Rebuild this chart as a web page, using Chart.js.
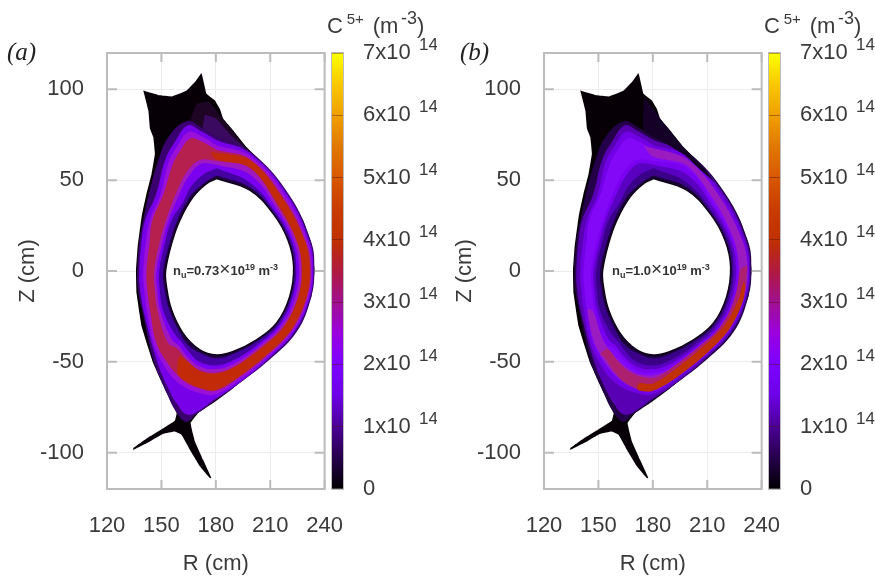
<!DOCTYPE html>
<html>
<head>
<meta charset="utf-8">
<title>C5+ density</title>
<script src="https://cdn.jsdelivr.net/npm/chart.js@4"></script>
<style>
  html, body { margin: 0; padding: 0; background: #fff; }
  body { position: relative; width: 875px; height: 576px; overflow: hidden; }
  .box { position: absolute; top: 0; height: 576px; }
  .box canvas { filter: blur(0.45px); }
</style>
</head>
<body>
<div class="box" style="left:0;width:367px"><canvas id="plotA"></canvas></div>
<div class="box" style="left:437px;width:367px"><canvas id="plotB"></canvas></div>
<div class="box" style="left:320px;width:117px"><canvas id="barA"></canvas></div>
<div class="box" style="left:757px;width:118px"><canvas id="barB"></canvas></div>
<script>
// axis ticks
const rTicks = [120, 150, 180, 210, 240];
const zTicks = [-100, -50, 0, 50, 100];
const cbTicks = [0, 1, 2, 3, 4, 5, 6, 7];

// colour bar, value in 1e14 m-3
const cbStops = [0, 1, 1.5, 2, 2.5, 3, 3.5, 4, 4.5, 5, 5.5, 6, 6.5, 7];
const cbColors = ["#000000", "#4b0096", "#6c00e6", "#7c00ff", "#9a00e0", "#a01090", "#b01a40", "#c03000",
  "#c83c00", "#d85800", "#e07800", "#f0a000", "#f8c800", "#ffff00"];

// contours in (R, Z) cm
const outline = [[140,99.4],[149.2,96.7],[155.6,96.1],[163.9,99.4],[168.5,104],[172.1,108.9],[174.9,97.6],[179.5,93.9],
  [182.2,89.3],[184.1,83.8],[189.6,77.4],[196.9,68.3],[207.9,57.3],[218.9,42.6],[228.1,28],[232.7,15.1],[234.5,0.5],
  [232.7,-14.1],[228.1,-25.1],[218.9,-39.8],[204.2,-52.6],[189.6,-64.5],[178.5,-72.7],[170.3,-78.2],[166.1,-83.7],
  [168.5,-93.8],[173,-103.9],[177.6,-114],[176.7,-114],[171.2,-107.5],[165.7,-98.4],[161.1,-90.1],[157.4,-88.3],[151,-89.6],
  [143.7,-93.8],[134.5,-98.4],[134.5,-97.5],[143.7,-91],[151,-86.5],[157.4,-82.4],[158.4,-78.2],[152.9,-67.2],[145.5,-50.8],
  [139.1,-30.6],[136.3,-12.3],[136,0],[136.9,13.3],[139.1,29.8],[141.8,42.6],[144.6,53.6],[146.4,64.6],[145.5,73.8],
  [143.7,78.3],[142.8,88.4]];
const hole = [[180.4,50.9],[198.7,44.5],[211.6,31.6],[219.8,17],[222.9,2.3],[220.7,-14.1],[213.4,-28.8],[202.4,-37.9],
  [189.6,-44.3],[180.4,-46.2],[171.2,-43.4],[162,-34.3],[155.6,-21.4],[152.8,-8.6],[152.3,0],[155.6,15.1],[160.2,28],
  [167.5,40.8],[174.9,48.1]];
const ring0 = [[181,73.5],[199,65.8],[220.2,42.3],[232.6,16],[234.3,1],[232.7,-14],[224.6,-33.5],[209.4,-49],[190,-64],
  [178.5,-72.2],[169,-79],[163.5,-83],[157.5,-76.5],[152.5,-66],[146,-50.5],[139.8,-23.5],[137,-9.8],[136.7,0],[137.8,16],
  [140,28],[143,42],[148,60],[154,74],[164,82.5],[172,79]];
const ring1 = [[181,71.8],[199,64.8],[219.7,41.7],[231.8,16],[233.8,1],[232,-14],[223.8,-32.9],[208.9,-48.4],[191,-63],
  [179.2,-70.8],[170.5,-77],[164,-79],[158.5,-73],[153.5,-64],[147.5,-49.5],[140.5,-23.4],[138.2,-9.8],[137.8,0],[139,16],
  [141,28],[147,42],[152,61],[157.4,71],[164.6,80.2],[171.2,77.4]];
const ring2 = [[180.9,69],[199,63.3],[218.9,40.6],[230.8,16.1],[233,1.1],[231.2,-14],[222.9,-32.6],[208.3,-47.5],[190.9,-61.5],
  [179.4,-68],[170.5,-67],[163,-64],[157,-59.5],[151.5,-52],[146,-41],[142,-22],[140.5,-9.7],[140,0],[141.5,16],[143.6,28],
  [149.5,42],[154,60],[159,69],[165,76.5],[171.5,74.5]];
const ring3 = [[180.8,66.5],[199,61.5],[217.9,39.4],[229.6,16.2],[232.3,1.2],[230.4,-14],[222.1,-32.2],[207.9,-46.8],[190.8,-60],
  [179.5,-66],[170.5,-64.5],[163.9,-61.7],[158.4,-57],[152.9,-50],[147.3,-39.8],[143.7,-21.4],[142.2,-9.6],[141.8,0],[143.5,16],
  [145,28],[151,42],[156,58],[160.5,66.5],[166,73],[171.5,71.5]];
const ring4 = [[180.6,60.5],[199,56.4],[214.5,35.2],[224.4,16.6],[227.2,1.8],[225.3,-14],[217.3,-30.4],[204.9,-42],[190.2,-52.6],
  [180,-56],[171,-54.5],[164,-49],[158.4,-42.5],[153.7,-39.8],[148,-22.4],[146.3,-9.4],[146,0],[149,15.8],[152.5,28],[158.6,44],
  [164,54.5],[171,61]];
const ring5 = [[180.5,58.5],[199,53],[213.7,34.2],[223.1,16.7],[225.9,2],[223.9,-14],[216.3,-29.9],[204.4,-41.1],[190,-51],
  [180.1,-54],[171,-52.5],[164.5,-47.5],[159.5,-41],[155.6,-37.5],[149.5,-22.2],[147.6,-9.3],[147.3,0],[150.5,15.6],[153.9,28],
  [159.8,42],[165,52],[172,59]];
const ring6 = [[180.5,56.5],[199,48.5],[212.6,32.9],[221.8,16.8],[224.4,2.1],[222.4,-14.1],[215.1,-29.5],[203.7,-40],[189.9,-49],
  [180.2,-52],[171,-50],[165.5,-45],[161,-39],[157.5,-35],[151,-22],[149,-9.2],[148.8,0],[152,15.5],[155.6,28],[162,38],
  [166,46],[173,53]];
const ring7 = [[180.4,52.6],[199,46],[212,32.1],[220.4,17],[223.4,2.2],[221.3,-14.1],[214,-29],[202.9,-38.6],[189.7,-45.6],
  [180.4,-48],[171.2,-45],[165,-41],[161,-35.5],[154.4,-21.5],[151.6,-9],[151,0],[154.5,15.3],[158.8,28],[165.5,40.8],
  [169,44.5],[175.4,49.8]];

// panel (a) extras
const softA1 = [[169.4,92],[176,93],[182,86],[190,76],[197,67],[190,69],[181,73],[172,79],[166,82]];
const softA2 = [[174,86],[180,84],[188,75],[197,66.5],[189,69],[180,73.5],[173,78.5]];
const redA = [[177,65.5],[199,61],[217.5,39],[229.2,16.2],[231.9,1.2],[230,-14],[221.7,-32],[207.5,-46.4],[190.8,-59.5],[179.5,-65.5],
  [170.5,-64],[164,-61],[159,-56.5],[160,-47],[164.5,-50],[171,-55],[180,-56.5],[190.2,-53],[205.2,-42.5],[217.6,-30.8],
  [225.7,-14],[227.6,1.8],[224.8,16.6],[215,35.8],[199,56.8],[180,61.5]];

// panel (b) extras
const darkEdgeB = [[175,96],[184,84],[197,68],[208,57],[214,49],[207,55],[198,63.5],[185,71.5],[175,77]];
const purpleB = [[175,69],[199,61.5],[217.9,39.4],[229.6,16.2],[232.3,1.2],[230.4,-14],[222.1,-32.2],[207.9,-46.8],[190.8,-60],
  [179.5,-66],[170.5,-64.5],[163.9,-61],[158.4,-56],[152.9,-49],[147.3,-38],[144,-21],[147,-22],[153,-39],[158,-46],[164,-52],
  [171,-56.5],[180,-57.5],[190.2,-54],[204.9,-43],[217.3,-31],[225.3,-15],[227.5,1],[224.8,17],[215,37],[199,58],[180,63]];
const crimsonB = [[232,3],[230.4,-14],[222.1,-32.2],[207.9,-46.8],[190.8,-60],[179.5,-66],[170.5,-64.5],[163.9,-61],[158.4,-55],
  [153,-47],[151,-46],[155,-43],[161,-50],[168,-56],[180,-59],[190,-53.5],[204,-42.5],[216.5,-30.5],[225,-14],[228.5,1]];
const redB = [[231,-8],[229.5,-17],[222,-32],[208,-46.8],[191,-60],[179.5,-66],[172,-65.5],[172,-62],[180,-62],[190.5,-55.5],
  [205.5,-43.5],[219.5,-30],[227.5,-15],[230,-6]];

const layersA = [
  [outline, "#060006", 0.08], [softA1, "#1e0526", 0.2], [softA2, "#3a0a60", 0.2],
  [ring0, "#3a0070", 0.4], [ring1, "#7800e8", 0.4], [ring2, "#9a10d8", 0.4], [ring3, "#b5204f", 0.4], [redA, "#c32a08", 0.3],
  [ring4, "#a018c0", 0.4], [ring5, "#7c00f0", 0.4], [ring6, "#4400a0", 0.4], [ring7, "#1e0040", 0.4], [hole, "#ffffff", 0.4]
];
const layersB = [
  [outline, "#060006", 0.08],
  [ring0, "#240048", 0.4], [ring1, "#5a00b4", 0.4], [ring2, "#7200e4", 0.4], [darkEdgeB, "#150028", 0.1],
  [ring3, "#8408f8", 0.4], [purpleB, "#9a1cc0", 0.3], [crimsonB, "#ad2070", 0.3], [redB, "#c03000", 0.3],
  [ring4, "#7a00f0", 0.4], [ring5, "#5a00c0", 0.4], [ring6, "#3a0088", 0.4], [ring7, "#180034", 0.4], [hole, "#ffffff", 0.4]
];

const textColor = "#3a3a3a";
const frameColor = "#bcbcbc";
const sansFont = "'Liberation Sans', Arial, sans-serif";

function layerDataset(points, color, tension, index, total) {
  const closed = points.concat([points[0]]);
  const isHole = points === hole;
  return {
    data: closed.map(p => ({ x: p[0], y: p[1] })),
    showLine: true,
    fill: "shape",
    backgroundColor: color,
    borderColor: isHole ? "#10001c" : color,
    borderWidth: isHole ? 1.5 : 0,
    pointRadius: 0,
    tension: tension,
    order: total - index
  };
}

// writes one line of mixed size text, each run is [text, size, rise, weight, family]
function drawRuns(ctx, x, y, runs, color) {
  ctx.save();
  ctx.fillStyle = color;
  ctx.textAlign = "left";
  ctx.textBaseline = "alphabetic";
  for (const run of runs) {
    const [text, size, rise, weight, family] = run;
    ctx.font = (weight || "normal") + " " + size + "px " + (family || sansFont);
    ctx.fillText(text, x, y - (rise || 0));
    x += ctx.measureText(text).width;
  }
  ctx.restore();
}

// inward ticks on all four sides plus the frame
const framePlugin = {
  id: "frame",
  afterDatasetsDraw(chart) {
    const { ctx, chartArea: a, scales } = chart;
    ctx.save();
    ctx.strokeStyle = frameColor;
    ctx.lineWidth = 2;
    ctx.strokeRect(a.left, a.top, a.right - a.left, a.bottom - a.top);
    ctx.beginPath();
    for (const v of rTicks) {
      const x = scales.x.getPixelForValue(v);
      ctx.moveTo(x, a.top); ctx.lineTo(x, a.top + 9);
      ctx.moveTo(x, a.bottom); ctx.lineTo(x, a.bottom - 9);
    }
    for (const v of zTicks) {
      const y = scales.y.getPixelForValue(v);
      ctx.moveTo(a.left, y); ctx.lineTo(a.left + 10, y);
      ctx.moveTo(a.right, y); ctx.lineTo(a.right - 10, y);
    }
    ctx.stroke();
    ctx.restore();
  }
};

function makePlot(id, layers, panelLabel, labelX, densityRuns, densityX) {
  const notes = {
    id: "notes",
    afterDraw(chart) {
      drawRuns(chart.ctx, labelX, 60, [[panelLabel, 25, 0, "italic", "'Liberation Serif', serif"]], "#222");
      drawRuns(chart.ctx, densityX, 275, densityRuns, "#333");
    }
  };
  new Chart(document.getElementById(id), {
    type: "scatter",
    data: { datasets: layers.map((l, i) => layerDataset(l[0], l[1], l[2], i, layers.length)) },
    plugins: [framePlugin, notes],
    options: {
      responsive: true,
      maintainAspectRatio: false,
      animation: false,
      layout: { padding: { top: 53, right: 0, left: 0, bottom: 0 } },
      plugins: { legend: { display: false }, tooltip: { enabled: false } },
      scales: {
        x: {
          type: "linear",
          min: 120,
          max: 240,
          afterBuildTicks: s => { s.ticks = rTicks.map(v => ({ value: v })); },
          afterFit: s => { s.height = 87; },
          border: { display: false },
          grid: { color: "#ececec", drawTicks: false },
          ticks: { color: textColor, font: { family: sansFont, size: 22 }, padding: 24, maxRotation: 0, autoSkip: false },
          title: { display: true, text: "R (cm)", color: textColor, font: { family: sansFont, size: 22 }, padding: { top: 8, bottom: -1 } }
        },
        y: {
          type: "linear",
          min: -120,
          max: 120,
          afterBuildTicks: s => { s.ticks = zTicks.map(v => ({ value: v })); },
          afterFit: s => { s.width = 107; },
          border: { display: false },
          grid: { color: "#ececec", drawTicks: false },
          ticks: { color: textColor, font: { family: sansFont, size: 22 }, padding: 23, autoSkip: false },
          title: { display: true, text: "Z (cm)", color: textColor, font: { family: sansFont, size: 22 }, padding: { top: 15, bottom: 0 } }
        }
      }
    }
  });
}

function makeBar(id, axisWidth) {
  const exponents = {
    id: "exponents",
    afterDraw(chart) {
      const { ctx, chartArea: a, scales } = chart;
      ctx.save();
      ctx.strokeStyle = frameColor;
      ctx.lineWidth = 1;
      ctx.strokeRect(a.left - 0.5, a.top - 0.5, a.right - a.left + 1, a.bottom - a.top + 1);
      ctx.restore();
      for (const v of cbTicks) {
        if (v === 0) continue;
        drawRuns(ctx, a.right + 76, scales.y.getPixelForValue(v) - 3, [["14", 17]], textColor);
      }
      drawRuns(ctx, 7, 33, [["C", 22], [" ", 14], ["5+", 15, 9], [" ", 32], ["(m", 22], [" ", 9], ["-3", 18, 9], [")", 22]], textColor);
    }
  };
  new Chart(document.getElementById(id), {
    type: "bar",
    data: {
      labels: ["C5+"],
      datasets: [{
        data: [[cbTicks[0], cbTicks[cbTicks.length - 1]]],
        barPercentage: 1,
        categoryPercentage: 1,
        backgroundColor(c) {
          const a = c.chart.chartArea;
          if (!a) return "#000";
          const g = c.chart.ctx.createLinearGradient(0, a.bottom, 0, a.top);
          cbStops.forEach((s, i) => g.addColorStop(s / 7, cbColors[i]));
          return g;
        }
      }]
    },
    plugins: [exponents],
    options: {
      responsive: true,
      maintainAspectRatio: false,
      animation: false,
      layout: { padding: { top: 53, left: 12, right: 0, bottom: 87 } },
      plugins: { legend: { display: false }, tooltip: { enabled: false } },
      scales: {
        x: { display: false },
        y: {
          position: "right",
          min: 0,
          max: 7,
          afterBuildTicks: s => { s.ticks = cbTicks.map(v => ({ value: v })); },
          afterFit: s => { s.width = axisWidth; },
          border: { display: false },
          grid: { z: 1, color: "rgba(70,20,0,0.4)", drawTicks: false },
          ticks: {
            color: textColor,
            font: { family: sansFont, size: 22 },
            padding: 20,
            autoSkip: false,
            callback: v => (v === 0 ? "0" : v + "x10")
          }
        }
      }
    }
  });
}

const densityA = [["n", 13, 0, "bold"], ["u", 9, -3, "bold"], ["=0.73", 13, 0, "bold"], ["\u00d7", 19, 0], ["10", 13, 0, "bold"], ["19", 9, 5, "bold"], [" m", 13, 0, "bold"], ["-3", 9, 5, "bold"]];
const densityB = [["n", 13, 0, "bold"], ["u", 9, -3, "bold"], ["=1.0", 13, 0, "bold"], ["\u00d7", 19, 0], ["10", 13, 0, "bold"], ["19", 9, 5, "bold"], [" m", 13, 0, "bold"], ["-3", 9, 5, "bold"]];

makePlot("plotA", layersA, "(a)", 7, densityA, 173);
makePlot("plotB", layersB, "(b)", 23, densityB, 175);
makeBar("barA", 94);
makeBar("barB", 95);
</script>
</body>
</html>
